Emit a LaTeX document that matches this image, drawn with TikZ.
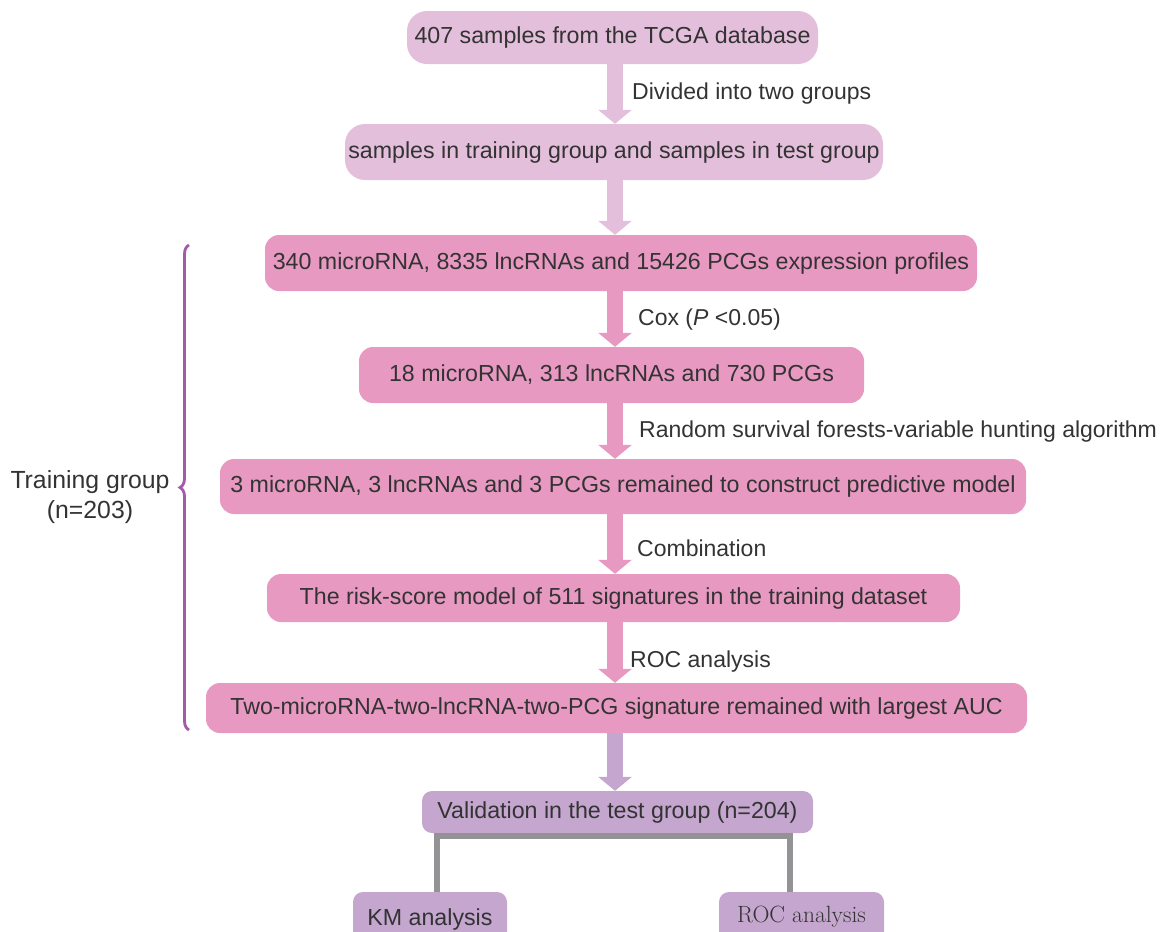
\documentclass[tikz,border=0pt]{standalone}
\usepackage{fontspec}
\setsansfont{Liberation Sans}
\usetikzlibrary{arrows.meta,decorations.pathreplacing}
\definecolor{lightpink}{HTML}{E4BFDC}
\definecolor{deeppink}{HTML}{E899C1}
\definecolor{lilac}{HTML}{C4A6CE}
\definecolor{branchgray}{HTML}{939395}
\definecolor{bracepurple}{HTML}{A35BA9}
\definecolor{inkgray}{HTML}{333333}

\begin{document}
\begin{tikzpicture}[x=1pt, y=-1pt,
    box/.style={inner sep=0pt, text=inkgray, font=\sffamily\fontsize{23.2}{27}\selectfont},
    note/.style={anchor=west, inner sep=0pt, text=inkgray, font=\sffamily\fontsize{23}{27}\selectfont},
    flow/.style={line width=16.5pt, -{Triangle[width=33pt,length=14pt]}}]
    \useasboundingbox (0,0) rectangle (1160,932);
    \clip (0,0) rectangle (1160,932);
    \coordinate (spine) at (615,0);
    % Boxes
    \node[box, fill=lightpink, rounded corners=20pt, minimum width=411pt, minimum height=53pt] (b1) at (612.5,37.5) {407 samples from the TCGA database};
    \node[box, fill=lightpink, rounded corners=20pt, minimum width=538pt, minimum height=56pt] (b2) at (614,152) {samples in training group and samples in test group};
    \node[box, fill=deeppink, rounded corners=14pt, minimum width=712pt, minimum height=56pt] (b3) at (621,263) {340 microRNA, 8335 lncRNAs and 15426 PCGs expression profiles};
    \node[box, fill=deeppink, rounded corners=14pt, minimum width=505pt, minimum height=56pt] (b4) at (611.5,375) {18 microRNA, 313 lncRNAs and 730 PCGs};
    \node[box, fill=deeppink, rounded corners=14pt, minimum width=806pt, minimum height=55pt] (b5) at (623,486.5) {3 microRNA, 3 lncRNAs and 3 PCGs remained to construct predictive model};
    \node[box, fill=deeppink, rounded corners=14pt, minimum width=693pt, minimum height=48pt] (b6) at (613.5,598) {The risk-score model of 511 signatures in the training dataset};
    \node[box, fill=deeppink, rounded corners=14pt, minimum width=821pt, minimum height=50pt] (b7) at (616.5,708) {Two-microRNA-two-lncRNA-two-PCG signature remained with largest AUC};
    \node[box, fill=lilac, rounded corners=10pt, minimum width=391pt, minimum height=42pt] (b8) at (617.5,812) {Validation in the test group (n=204)};
    \node[box, fill=lilac, rounded corners=10pt, minimum width=154pt, minimum height=50pt, text depth=0pt] (b9) at (430,917) {KM analysis};
    \node[box, fill=lilac, rounded corners=10pt, minimum width=165pt, minimum height=50pt, font=\rmfamily\fontsize{23.5}{27}\selectfont] (b10) at (801.5,917) {ROC analysis};
    % Arrows
    \foreach \from/\to/\col in {b1/b2/lightpink, b2/b3/lightpink, b3/b4/deeppink, b4/b5/deeppink,
                                b5/b6/deeppink, b6/b7/deeppink, b7/b8/lilac}
    {
    \draw[flow, color=\col] (\from.south -| spine) -- (\to.north -| spine);
    }
    % Arrow labels
    \node[note] (n1) at (632,94) {Divided into two groups};
    \node[note] (n2) at (638,320) {Cox (\textit{P} <0.05)};
    \node[note] (n3) at (639,432) {Random survival forests-variable hunting algorithm};
    \node[note] (n4) at (637,548) {Combination};
    \node[note] (n5) at (630,662) {ROC analysis};
    % Branches
    \draw[branchgray, line width=6pt] ([xshift=7pt]b9.north) |- ([yshift=-3pt]b8.south) -| ([xshift=-11.5pt]b10.north);
    % Brace
    \coordinate (bt) at (189,245);
    \coordinate (bb) at (189,730);
    \draw[bracepurple, line width=2.8pt, decorate, decoration={brace, amplitude=9pt}] (bb) -- (bt);
    \node[align=center, inner sep=0pt, text=inkgray, font=\sffamily\fontsize{24.8}{30}\selectfont] (train) at (90,497) {Training group\\(n=203)};
\end{tikzpicture}
\end{document}
